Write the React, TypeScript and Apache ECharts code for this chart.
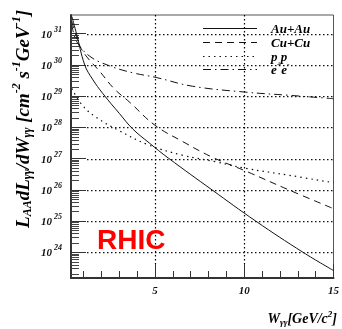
import { useEffect, useRef } from 'react';
import * as echarts from 'echarts';

// W_gammagamma [GeV/c^2] and log10 of luminosity [cm^-2 s^-1 GeV^-1]
const auW = [0.35, 0.61, 1.07, 1.5, 2.09, 3.02, 3.76, 4.69, 5.75, 8.2, 10.65, 13.3, 15];
const auLog = [31.55, 31.0, 30.0, 29.55, 29.08, 28.44, 27.95, 27.5, 27.02, 26.0, 25.0, 24.0, 23.42];

const cuW = [0.35, 0.55, 0.8, 1.2, 1.9, 2.7, 3.6, 5.0, 6.55, 8.2, 10.1, 12.5, 15];
const cuLog = [31.4, 31.0, 30.6, 30.25, 29.8, 29.25, 28.8, 28.07, 27.55, 27.05, 26.6, 26.0, 25.4];

const ppW = [0.35, 0.89, 1.72, 3.02, 4.6, 6.55, 8.41, 10.08, 12.5, 15];
const ppLog = [29.25, 28.74, 28.32, 27.89, 27.45, 27.11, 26.9, 26.69, 26.47, 26.23];

const eeW = [0.35, 0.61, 1.35, 2.47, 3.76, 5.07, 7.1, 10.08, 12.5, 15];
const eeLog = [31.3, 30.76, 30.28, 29.97, 29.75, 29.6, 29.32, 29.13, 29.03, 28.92];

const yDecades = [24, 25, 26, 27, 28, 29, 30, 31];
const xLabels = [5, 10, 15];
const xGrid = [5, 10];
const xMinorTicks = [1, 2, 3, 4, 6, 7, 8, 9, 11, 12, 13, 14];

const X_MIN = 0.3;
const X_MAX = 15;
const Y_MIN = 23.18;
const Y_MAX = 31.6;

const SERIF = 'Liberation Serif';
const INK = '#111';

function minorYTicks(): number[] {
  const out: number[] = [];
  for (let n = 23; n <= 31; n++) {
    for (let k = 2; k <= 9; k++) {
      const v = n + Math.log10(k);
      if (v > Y_MIN && v < Y_MAX) out.push(v);
    }
  }
  return out;
}

function pairs(xs: number[], ys: number[]) {
  return xs.map((x, i) => [x, ys[i]]);
}

export default function App() {
  const ref = useRef<HTMLDivElement>(null);
  useEffect(() => {
    if (!ref.current) return;
    const chart = echarts.init(ref.current, null, { renderer: 'svg' });
    const lineBase = {
      type: 'line' as const,
      showSymbol: false,
      symbol: 'none',
      smooth: 0.4,
      xAxisIndex: 0,
      yAxisIndex: 0,
      z: 3,
    };
    const labelBase = { fontFamily: SERIF, fontWeight: 'bold' as const, fontStyle: 'italic' as const, color: INK };
    const legendX1 = 203;
    const legendX2 = 257;
    const legendRows = [
      { y: 28, dash: null as number[] | null, text: '{m|Au+Au}' },
      { y: 42, dash: [7, 5], text: '{m|Cu+Cu}' },
      { y: 56, dash: [1.5, 4], text: '{m|p p}' },
      { y: 69, dash: [8, 4, 1.5, 4], text: '{m|e}{p|+}{m|e}{p|-}' },
    ];
    const legendRich = {
      m: { ...labelBase, fontSize: 13 },
      p: { ...labelBase, fontSize: 8, padding: [0, 0, 9, 0] },
    };
    const titleRich = {
      m: { ...labelBase, fontSize: 19 },
      sub: { ...labelBase, fontSize: 12, padding: [10, 0, 0, 0] },
      sup: { ...labelBase, fontSize: 12, padding: [0, 0, 12, 0] },
    };
    const xTitleRich = {
      m: { ...labelBase, fontSize: 14 },
      sub: { ...labelBase, fontSize: 9, padding: [8, 0, 0, 0] },
      sup: { ...labelBase, fontSize: 9, padding: [0, 0, 9, 0] },
    };
    const option: any = {
      animation: false,
      grid: {
        left: 71,
        top: 15,
        right: 7,
        bottom: 51,
        show: true,
        borderColor: '#555',
        borderWidth: 1,
        containLabel: false,
      },
      xAxis: [
        {
          type: 'value',
          min: X_MIN,
          max: X_MAX,
          position: 'bottom',
          axisLine: { show: true, lineStyle: { color: '#333', width: 2 } },
          axisTick: { show: true, inside: true, length: 14, customValues: xLabels, lineStyle: { color: '#333', width: 1 } },
          axisLabel: { show: true, customValues: xLabels, margin: 6, ...labelBase, fontSize: 11 },
          splitLine: { show: false },
        },
        {
          type: 'value',
          min: X_MIN,
          max: X_MAX,
          position: 'bottom',
          axisLine: { show: false },
          axisTick: { show: true, inside: true, length: 7, customValues: xMinorTicks, lineStyle: { color: '#333', width: 1 } },
          axisLabel: { show: false },
          splitLine: { show: false },
        },
      ],
      yAxis: [
        {
          type: 'value',
          min: Y_MIN,
          max: Y_MAX,
          position: 'left',
          axisLine: { show: true, lineStyle: { color: '#333', width: 2 } },
          axisTick: { show: true, inside: true, length: 15, customValues: yDecades, lineStyle: { color: '#333', width: 1 } },
          axisLabel: {
            show: true,
            customValues: yDecades,
            margin: 9,
            formatter: (v: number) => `{b|10}{s|${Math.round(v)}}`,
            rich: {
              b: { ...labelBase, fontSize: 11 },
              s: { ...labelBase, fontSize: 8, padding: [0, 0, 9, 2] },
            },
          },
          splitLine: { show: false },
        },
        {
          type: 'value',
          min: Y_MIN,
          max: Y_MAX,
          position: 'left',
          axisLine: { show: false },
          axisTick: { show: true, inside: true, length: 8, customValues: minorYTicks(), lineStyle: { color: '#444', width: 1 } },
          axisLabel: { show: false },
          splitLine: { show: false },
        },
      ],
      series: [
        {
          ...lineBase,
          name: 'Au+Au',
          data: pairs(auW, auLog),
          lineStyle: { color: INK, width: 1, type: 'solid' },
        },
        {
          ...lineBase,
          name: 'Cu+Cu',
          data: pairs(cuW, cuLog),
          lineStyle: { color: INK, width: 1, type: [7, 5] },
        },
        {
          ...lineBase,
          name: 'p p',
          data: pairs(ppW, ppLog),
          lineStyle: { color: INK, width: 1.2, type: [1.5, 4] },
        },
        {
          ...lineBase,
          name: 'e+e-',
          data: pairs(eeW, eeLog),
          lineStyle: { color: INK, width: 1, type: [8, 4, 1.5, 4] },
        },
      ],
    };
    chart.setOption(option);

    // gridlines placed through the chart's own axis scales
    const px = (x: number) => chart.convertToPixel({ xAxisIndex: 0 }, x) as number;
    const py = (y: number) => chart.convertToPixel({ yAxisIndex: 0 }, y) as number;
    const left = px(X_MIN);
    const right = px(X_MAX);
    const top = py(Y_MAX);
    const bottom = py(Y_MIN);
    const gridStyle = { stroke: '#000', lineWidth: 1.2, lineDash: [1.5, 2.5] };
    const hDots: any[] = [];
    yDecades.forEach((v) => {
      const y = Math.round(py(v));
      for (let x = Math.round(left + 16); x < right - 2; x += 4) {
        hDots.push({
          type: 'rect',
          silent: true,
          z: 5,
          shape: { x, y, width: 1.5, height: 1.2 },
          style: { fill: '#111' },
        });
      }
    });
    const gridGraphics = [
      ...hDots,
      ...xGrid.map((v) => {
        const x = Math.round(px(v)) + 0.5;
        return { type: 'line', silent: true, z: 5, shape: { x1: x, y1: top, x2: x, y2: bottom - 14 }, style: gridStyle };
      }),
    ];

    chart.setOption({
      graphic: [
        ...gridGraphics,
        ...legendRows.map((r) => ({
          type: 'line',
          shape: { x1: legendX1, y1: r.y + 0.5, x2: legendX2, y2: r.y + 0.5 },
          style: { stroke: INK, lineWidth: r.dash && r.dash[0] < 2 ? 1.2 : 1, lineDash: r.dash || undefined },
          z: 10,
        })),
        ...legendRows.map((r) => ({
          type: 'text',
          x: 271,
          y: r.y,
          style: { text: r.text, rich: legendRich, align: 'left', verticalAlign: 'middle' },
          z: 10,
        })),
        {
          type: 'text',
          x: 22,
          y: 10,
          rotation: Math.PI / 2,
          style: {
            text: '{m|L}{sub|AA}{m|dL}{sub|γγ}{m|/dW}{sub|γγ}{m| [cm}{sup|-2}{m| s}{sup|-1}{m|GeV}{sup|-1}{m|]}',
            rich: titleRich,
            align: 'right',
            verticalAlign: 'middle',
          },
          z: 10,
        },
        {
          type: 'text',
          x: 337,
          y: 318,
          style: {
            text: '{m|W}{sub|γγ}{m|[GeV/c}{sup|2}{m|]}',
            rich: xTitleRich,
            align: 'right',
            verticalAlign: 'middle',
          },
          z: 10,
        },
        {
          type: 'text',
          x: 97,
          y: 239,
          style: {
            text: 'RHIC',
            fontFamily: 'Liberation Sans',
            fontWeight: 'bold',
            fontSize: 28,
            fill: '#ff0000',
            align: 'left',
            verticalAlign: 'middle',
          },
          z: 10,
        },
      ],
    });
    return () => chart.dispose();
  }, []);
  return <div ref={ref} style={{ position: 'fixed', left: 0, top: 0, width: 342, height: 329 }} />;
}
